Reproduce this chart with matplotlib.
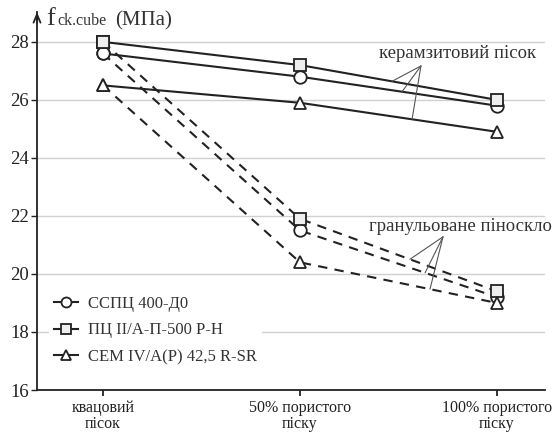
import numpy as np
import matplotlib.pyplot as plt

plt.rcParams['font.family'] = ['Liberation Serif', 'DejaVu Serif']

categories = ['квацовий\nпісок', '50% пористого\nпіску', '100% пористого\nпіску']
series_names = ['ССПЦ 400-Д0', 'ПЦ II/А-П-500 Р-Н', 'CEM IV/A(P) 42,5 R-SR']
markers = ['o', 's', '^']
faces = ['white', '#eeeeee', 'white']

# керамзитовий пісок (solid)
keramzyt = [
    [27.6, 26.8, 25.8],
    [28.0, 27.2, 26.0],
    [26.5, 25.9, 24.9],
]
# гранульоване піноскло (dashed)
pinosklo = [
    [27.6, 21.5, 19.2],
    [28.0, 21.9, 19.4],
    [26.5, 20.4, 19.0],
]

fig = plt.figure(figsize=(5.54, 4.36), dpi=100)
ax = fig.add_axes([0.0668, 0.1055, 0.917, 0.867])

x = np.arange(len(categories))
handles = []
for i in range(3):
    ax.plot(x, pinosklo[i], '--', color='#222222', lw=1.5, dashes=(4.5, 3.5), zorder=2)
for i in range(3):
    h, = ax.plot(x, keramzyt[i], '-', color='#222222', lw=1.5, marker=markers[i],
                 ms=9, mfc=faces[i], mec='#222222', mew=1.3, zorder=3, label=series_names[i])
    handles.append(h)
    ax.plot(x, pinosklo[i], ls='none', marker=markers[i], ms=9, mfc=faces[i],
            mec='#222222', mew=1.3, zorder=3)

ax.set_xlim(-0.335, 2.244)
ax.set_ylim(16, 29.03)
ax.set_yticks([16, 18, 20, 22, 24, 26, 28])
ax.set_xticks(x)
ax.set_xticklabels(categories, fontsize=11.5, color='#333333', linespacing=1.0)
ax.tick_params(axis='y', labelsize=13.5, colors='#222222', length=4, width=1, pad=2)
ax.tick_params(axis='x', length=4, width=1.3, colors='#222222', pad=3)
ax.yaxis.grid(True, color='#d0d0d0', lw=1)
ax.set_axisbelow(True)
for s in ['top', 'right']:
    ax.spines[s].set_visible(False)
for s in ['left', 'bottom']:
    ax.spines[s].set_linewidth(1.3)
    ax.spines[s].set_color('#222222')
ax.annotate('', xy=(0, 1.0), xytext=(0, 0.97), xycoords='axes fraction',
            arrowprops=dict(arrowstyle='->,head_length=0.6,head_width=0.25',
                            color='#222222', lw=1.3, shrinkA=0, shrinkB=0),
            annotation_clip=False)

# y label
fig.text(0.083, 0.942, 'f', fontsize=19, color='#333333', va='baseline')
fig.text(0.103, 0.942, 'ck.cube', fontsize=11.5, color='#333333', va='baseline')
fig.text(0.207, 0.942, '(МПа)', fontsize=15, color='#333333', va='baseline')

leg = ax.legend(handles=handles, loc='upper left', bbox_to_anchor=(0.008, 0.285),
                frameon=True, facecolor='white', edgecolor='none', framealpha=1,
                fontsize=12, handlelength=1.4, handletextpad=0.6, labelspacing=0.65,
                markerscale=0.8, borderpad=0.3)
for t in leg.get_texts():
    t.set_color('#333333')

# callouts
ax.text(2.2, 27.3, 'керамзитовий пісок', fontsize=13.5, color='#333333', ha='right', va='bottom')
tip = (1.614, 27.17)
for i, xp in enumerate([1.467, 1.518, 1.569]):
    yp = np.interp(xp, x, keramzyt[[1, 0, 2][i]])
    ax.annotate('', xy=(xp, yp), xytext=tip,
                arrowprops=dict(arrowstyle='-', color='#555555', lw=0.8,
                                shrinkA=0, shrinkB=0))

ax.text(2.277, 21.35, 'гранульоване піноскло', fontsize=13.5, color='#333333', ha='right', va='bottom')
tip2 = (1.726, 21.28)
for i, xp in enumerate([1.558, 1.635, 1.66]):
    yp = np.interp(xp, x, pinosklo[[1, 0, 2][i]])
    ax.annotate('', xy=(xp, yp), xytext=tip2,
                arrowprops=dict(arrowstyle='-', color='#555555', lw=0.8,
                                shrinkA=0, shrinkB=0))

fig.savefig('out.png', dpi=100)
